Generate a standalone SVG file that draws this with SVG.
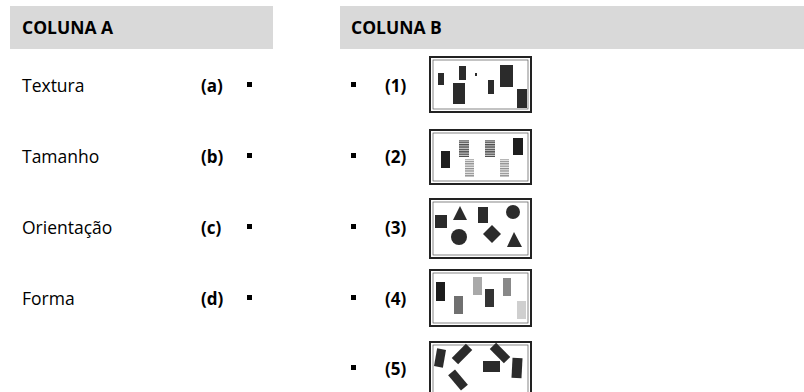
<svg xmlns="http://www.w3.org/2000/svg" width="804" height="392" viewBox="0 0 804 392">
<style>
text{font-family:"Open Sans","Noto Sans","Liberation Sans",sans-serif;fill:#000;}
.h{font-weight:bold;font-size:17.5px;}
.l{font-size:17.5px;}
.k{font-weight:bold;font-size:17px;}
.bar{fill:#d9d9d9;}
.frame{fill:#fff;stroke:#222;stroke-width:2;}
.inner{fill:none;stroke:#555;stroke-width:0.7;}
.d{fill:#2b2b2b;}
</style>
<defs>
<pattern id="st1" width="4" height="2.4" patternUnits="userSpaceOnUse"><rect width="4" height="2.4" fill="#d0d0d0"/><rect width="4" height="1.3" fill="#4a4a4a"/></pattern>
<pattern id="st2" width="4" height="2.4" patternUnits="userSpaceOnUse"><rect width="4" height="2.4" fill="#eeeeee"/><rect width="4" height="1.2" fill="#8a8a8a"/></pattern>
</defs>
<rect width="804" height="392" fill="#fff"/>
<g id="headerA"><rect class="bar" x="10" y="6" width="263" height="43"/><text class="h" x="22" y="34">COLUNA A</text></g>
<g id="headerB"><rect class="bar" x="340" y="6" width="464" height="43"/><text class="h" x="351" y="34">COLUNA B</text></g>

<g id="a"><text class="l" x="22" y="92">Textura</text><text class="k" x="201" y="92">(a)</text><rect x="247" y="82" width="5" height="5"/></g>
<g id="b"><text class="l" x="22" y="163">Tamanho</text><text class="k" x="201" y="163">(b)</text><rect x="247" y="153" width="5" height="5"/></g>
<g id="c"><text class="l" x="22" y="234">Orientação</text><text class="k" x="201" y="234">(c)</text><rect x="247" y="224" width="5" height="5"/></g>
<g id="d"><text class="l" x="22" y="305">Forma</text><text class="k" x="201" y="305">(d)</text><rect x="247" y="295" width="5" height="5"/></g>

<g id="n1"><rect x="351" y="82" width="5" height="5"/><text class="k" x="385" y="92">(1)</text>
<rect class="frame" x="430" y="57" width="101" height="55"/><rect class="inner" x="433" y="60" width="95" height="49"/>
<rect class="d" x="438" y="73" width="6" height="12"/><rect class="d" x="459" y="66" width="7" height="14"/><rect class="d" x="475" y="73" width="2" height="3"/><rect class="d" x="453" y="83" width="12" height="21"/><rect class="d" x="488" y="80" width="6" height="14"/><rect class="d" x="500" y="65" width="13" height="22"/><rect class="d" x="517" y="89" width="10" height="19"/></g>

<g id="n2"><rect x="351" y="153" width="5" height="5"/><text class="k" x="385" y="163">(2)</text>
<rect class="frame" x="430" y="130" width="101" height="54"/><rect class="inner" x="433" y="133" width="95" height="48"/>
<rect fill="#1e1e1e" x="441" y="151" width="9" height="17"/><rect fill="url(#st1)" x="459" y="140" width="10" height="17"/><rect fill="url(#st2)" x="465" y="159" width="9" height="18"/><rect fill="url(#st1)" x="485" y="140" width="10" height="17"/><rect fill="url(#st2)" x="500" y="159" width="9" height="18"/><rect fill="#1e1e1e" x="513" y="138" width="10" height="17"/></g>

<g id="n3"><rect x="351" y="224" width="5" height="5"/><text class="k" x="385" y="234">(3)</text>
<rect class="frame" x="430" y="199" width="101" height="59"/><rect class="inner" x="433" y="202" width="95" height="53"/>
<rect class="d" x="435" y="215" width="12" height="13"/><polygon class="d" points="460,206 453,220 467,220"/><rect class="d" x="478" y="207" width="10" height="16"/><circle class="d" cx="513" cy="212" r="7"/><circle class="d" cx="459" cy="237" r="8"/><polygon class="d" points="492,225 501,234 492,243 483,234"/><polygon class="d" points="514,232 507,247 522,247"/></g>

<g id="n4"><rect x="351" y="295" width="5" height="5"/><text class="k" x="385" y="305">(4)</text>
<rect class="frame" x="430" y="270" width="101" height="56"/><rect class="inner" x="433" y="273" width="95" height="50"/>
<rect fill="#1c1c1c" x="436" y="282" width="9" height="19"/><rect fill="#707070" x="454" y="296" width="9" height="18"/><rect fill="#a9a9a9" x="473" y="277" width="9" height="18"/><rect fill="#333" x="485" y="289" width="9" height="18"/><rect fill="#888" x="503" y="278" width="8" height="18"/><rect fill="#cfcfcf" x="517" y="301" width="9" height="18"/></g>

<g id="n5"><rect x="351" y="365" width="5" height="5"/><text class="k" x="385" y="375">(5)</text>
<rect class="frame" x="430" y="342" width="101" height="60"/><rect class="inner" x="433" y="345" width="95" height="54"/>
<rect class="d" x="-4.5" y="-9" width="9" height="18" transform="translate(440,358) rotate(10)"/><rect class="d" x="-4.5" y="-10" width="9" height="20" transform="translate(462,354) rotate(45)"/><rect class="d" x="-4.5" y="-10" width="9" height="20" transform="translate(500,353) rotate(-45)"/><rect class="d" x="483" y="361" width="17" height="11"/><rect class="d" x="-4.5" y="-10" width="9" height="20" transform="translate(458,380) rotate(-40)"/><rect class="d" x="-5" y="-10" width="10" height="20" transform="translate(517,368) rotate(3)"/></g>
</svg>
